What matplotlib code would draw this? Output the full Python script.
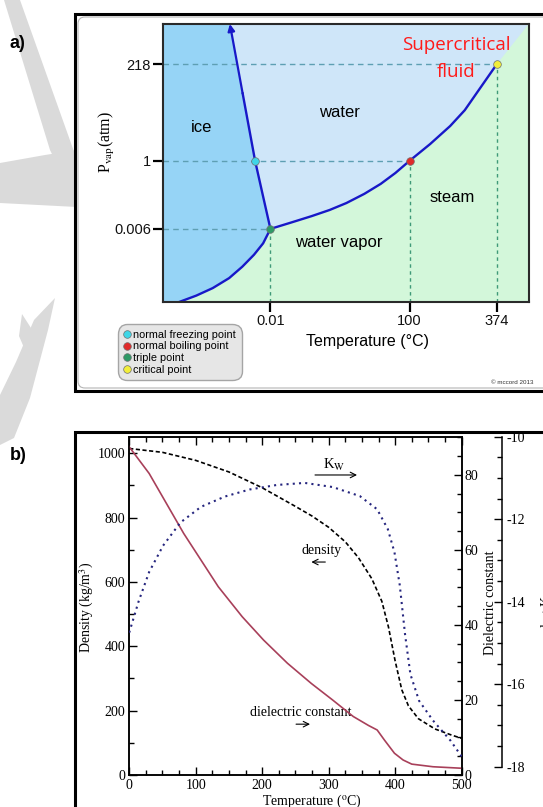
import numpy as np
import matplotlib
matplotlib.use("Agg")
import matplotlib.pyplot as plt
from matplotlib.patches import Polygon, Rectangle, FancyBboxPatch
from matplotlib.lines import Line2D
from matplotlib.ticker import MultipleLocator

plt.rcParams['font.family'] = 'Liberation Serif'
plt.rcParams['mathtext.fontset'] = 'stix'
plt.rcParams['axes.unicode_minus'] = False

W, H = 543, 807

# ---- panel a: schematic phase diagram (positions in % of plot box) ----
phase_xticks = [29.3, 67.4, 91.3]
phase_xlabels = ['0.01', '100', '374']
phase_yticks = [26.3, 50.8, 85.6]
phase_ylabels = ['0.006', '1', '218']

melt_x = [29.3, 27.2, 25.1, 21.7, 18.2]
melt_y = [26.3, 38.5, 50.8, 75.0, 100.0]
sub_x = [4.3, 9.0, 13.5, 18.0, 21.6, 24.8, 27.3, 29.3]
sub_y = [0.0, 2.3, 5.0, 8.6, 12.7, 17.0, 21.1, 26.3]
vap_x = [29.3, 35.0, 40.6, 45.5, 50.1, 55.0, 59.5, 63.5, 67.4, 73.0, 78.5, 82.5, 86.1, 91.3]
vap_y = [26.3, 28.6, 30.9, 33.1, 35.6, 38.9, 42.5, 46.4, 50.8, 56.8, 63.3, 69.0, 75.8, 85.6]

pt_names = ['normal freezing point', 'normal boiling point', 'triple point', 'critical point']
pt_x = [25.1, 67.4, 29.3, 91.3]
pt_y = [50.8, 50.8, 26.3, 85.6]
pt_colors = ['#3fd6e6', '#e02a2a', '#2e9a66', '#f2ee3a']

# ---- panel b: water properties vs temperature ----
dens_T = [0, 50, 100, 150, 200, 250, 275, 300, 325, 345, 365, 380, 390, 400, 410, 420, 435, 460, 485, 500]
dens = [1015, 1003, 978, 942, 893, 835, 805, 770, 725, 675, 610, 540, 460, 355, 265, 215, 175, 143, 124, 114]

diel_T = [0, 30, 56, 82, 108, 134, 170, 202, 238, 274, 306, 337, 360, 373, 384, 399, 412, 425, 457, 500]
diel = [87.5, 80.4, 72.4, 64.4, 57.3, 50.2, 42.2, 36.0, 29.8, 24.4, 20.0, 15.6, 13.2, 12.0, 9.3, 5.8, 4.0, 2.9, 2.2, 1.8]

kw_T = [0, 14, 30, 51, 77, 108, 144, 181, 222, 264, 306, 347, 373, 389, 399, 407, 415, 423, 436, 457, 483, 500]
kw = [-14.75, -14.0, -13.28, -12.64, -12.08, -11.7, -11.45, -11.28, -11.17, -11.12, -11.22, -11.44, -11.76,
      -12.24, -12.8, -13.6, -14.8, -15.76, -16.4, -16.88, -17.36, -17.75]


def fig_rect(x0, y0, x1, y1):
    return [x0 / W, 1 - y1 / H, (x1 - x0) / W, (y1 - y0) / H]


fig = plt.figure(figsize=(W / 100, H / 100), dpi=100)

# background: watermark + frames
bg = fig.add_axes([0, 0, 1, 1], zorder=-5)
bg.set_xlim(0, W)
bg.set_ylim(H, 0)
bg.axis('off')
wm = '#dadada'
bg.add_patch(Polygon([(4, 0), (20, 0), (77, 160), (77, 205), (50, 150)], fc=wm, ec='none'))
bg.add_patch(Polygon([(0, 163), (45, 155), (77, 150), (77, 207), (0, 203)], fc=wm, ec='none'))
bg.add_patch(Polygon([(55, 298), (48, 330), (30, 398), (14, 438), (0, 445), (0, 395), (16, 362), (34, 320)],
                     fc=wm, ec='none'))
bg.add_patch(Polygon([(22, 314), (31, 328), (25, 350), (19, 336)], fc=wm, ec='none'))
bg.add_patch(Rectangle((75, 14), 490, 377, fc='white', ec='black', lw=2.2))
bg.add_patch(FancyBboxPatch((78, 17), 480, 371, boxstyle='round,pad=0,rounding_size=7',
                            fc='none', ec='#b5b5b5', lw=0.8))
bg.add_patch(Rectangle((74.5, 432), 490, 400, fc='white', ec='black', lw=2.2))
bg.text(10, 43, 'a)', fontsize=13, fontweight='bold', family='Liberation Sans', va='center')
bg.text(10, 455, 'b)', fontsize=13, fontweight='bold', family='Liberation Sans', va='center')

# ---------------- panel a ----------------
blue = '#1818c8'
ax_a = fig.add_axes(fig_rect(163.4, 24, 528.7, 302))
ax_a.set_xlim(0, 100)
ax_a.set_ylim(0, 100)
ax_a.set_facecolor('#cfe6f9')

ice = [(0, 100)] + list(zip(melt_x[::-1], melt_y[::-1])) + list(zip(sub_x[::-1], sub_y[::-1]))[1:] + [(0, 0)]
ax_a.add_patch(Polygon(ice, fc='#96d4f6', ec='none', zorder=1))
gas = list(zip(sub_x, sub_y)) + list(zip(vap_x, vap_y))[1:] + [(100, 100), (100, 0)]
ax_a.add_patch(Polygon(gas, fc='#d3f7da', ec='none', zorder=1))

hcol = '#5e9fb3'
vcol = '#3f9a78'
ax_a.plot([0, pt_x[1]], [pt_y[1], pt_y[1]], color=hcol, lw=1.0, ls=(0, (4, 3)), zorder=2)
ax_a.plot([0, pt_x[2]], [pt_y[2], pt_y[2]], color=hcol, lw=1.0, ls=(0, (4, 3)), zorder=2)
ax_a.plot([0, pt_x[3]], [pt_y[3], pt_y[3]], color=hcol, lw=1.0, ls=(0, (4, 3)), zorder=2)
for i in [1, 2, 3]:
    ax_a.plot([pt_x[i], pt_x[i]], [0, pt_y[i]], color=vcol, lw=1.0, ls=(0, (2.5, 2.5)), zorder=2)

ax_a.plot(sub_x, sub_y, color=blue, lw=1.7, zorder=3, solid_capstyle='round')
ax_a.plot(vap_x, vap_y, color=blue, lw=1.7, zorder=3, solid_capstyle='round')
ax_a.plot(melt_x[:-1], melt_y[:-1], color=blue, lw=1.7, zorder=3)
ax_a.annotate('', xy=(melt_x[-1], melt_y[-1]), xytext=(melt_x[-2], melt_y[-2]),
              arrowprops=dict(arrowstyle='-|>', color=blue, lw=1.6, mutation_scale=10,
                              shrinkA=0, shrinkB=0), zorder=3)

for x, y, c in zip(pt_x, pt_y, pt_colors):
    ax_a.plot(x, y, 'o', ms=5.5, mfc=c, mec='#707070', mew=0.5, zorder=5)

for s in ax_a.spines.values():
    s.set_color('#2a2a2a')
    s.set_linewidth(1.5)
    s.set_zorder(6)
ax_a.set_xticks(phase_xticks, phase_xlabels)
ax_a.set_yticks(phase_yticks, phase_ylabels)
ax_a.tick_params(length=7, width=1.6, direction='out', labelsize=10.5, labelfontfamily='Liberation Sans',
                 labelcolor='#111111')
ax_a.tick_params(axis='x', pad=1.5)
ax_a.tick_params(axis='y', pad=2)

sans = 'Liberation Sans'
ax_a.text(10.5, 62.7, 'ice', family=sans, fontsize=12, ha='center', va='center', zorder=7)
ax_a.text(48.2, 68.1, 'water', family=sans, fontsize=12, ha='center', va='center', zorder=7)
ax_a.text(79.0, 37.5, 'steam', family=sans, fontsize=12, ha='center', va='center', zorder=7)
ax_a.text(47.9, 21.5, 'water vapor', family=sans, fontsize=12, ha='center', va='center', zorder=7)
ax_a.text(80.1, 92.4, 'Supercritical', family='Open Sans', fontsize=13.5, color='#ff1a1a',
          ha='center', va='center', zorder=7)
ax_a.text(80.1, 82.6, 'fluid', family='Open Sans', fontsize=13.5, color='#ff1a1a',
          ha='center', va='center', zorder=7)

handles = [Line2D([], [], marker='o', ls='', ms=5.5, mfc=c, mec='#707070', mew=0.5) for c in pt_colors]
leg = ax_a.legend(handles, pt_names, loc='upper left', bbox_to_anchor=(117.7 / W, 1 - 324 / H),
                  bbox_transform=fig.transFigure, frameon=True, fancybox=True, framealpha=1,
                  facecolor='#e6e6e6', edgecolor='#a5a5a5', prop={'family': sans, 'size': 7.8},
                  handlelength=0.6, handletextpad=0.3, labelspacing=0.14, borderpad=0.55,
                  borderaxespad=0)
leg.get_frame().set_boxstyle('round,pad=0,rounding_size=0.9')
leg.get_frame().set_linewidth(1.0)

fig.text(367 / W, 1 - 341.7 / H, 'Temperature (°C)', family=sans, fontsize=11.5, ha='center', va='center')
fig.text(107.3 / W, 1 - 141.7 / H, r'P$_{\rm vap}$(atm)', fontsize=11.5, rotation=90, ha='center', va='center')
fig.text(512 / W, 1 - 382.3 / H, '© mccord 2013', family=sans, fontsize=4.5, color='#333333',
         ha='center', va='center')

# ---------------- panel b ----------------
ax_b = fig.add_axes(fig_rect(129.2, 436.7, 461.6, 775))
ax_b.plot(dens_T, dens, color='black', lw=1.2, ls=(0, (2.5, 1.5)))
ax_b.set_xlim(0, 500)
ax_b.set_ylim(0, 1051.6)
ax_b.xaxis.set_major_locator(MultipleLocator(100))
ax_b.xaxis.set_minor_locator(MultipleLocator(25))
ax_b.yaxis.set_major_locator(MultipleLocator(200))
ax_b.yaxis.set_minor_locator(MultipleLocator(100))
ax_b.tick_params(which='both', direction='in', top=True, right=False, width=1.0, labelsize=10)
ax_b.tick_params(which='major', length=6)
ax_b.tick_params(which='minor', length=3.5)
ax_b.tick_params(axis='x', pad=3)
ax_b.tick_params(axis='y', pad=3)

ax_e = ax_b.twinx()
ax_e.plot(diel_T, diel, color='#a8405a', lw=1.2)
ax_e.set_ylim(0, 90.2)
ax_e.yaxis.set_major_locator(MultipleLocator(20))
ax_e.yaxis.set_minor_locator(MultipleLocator(5))
ax_e.tick_params(which='both', direction='in', width=1.0, labelsize=10, pad=2)
ax_e.tick_params(which='major', length=6)
ax_e.tick_params(which='minor', length=3.5)

ax_k = ax_b.twinx()
ax_k.plot(kw_T, kw, color='#26267f', lw=1.5, ls=(0, (1, 2)))
ax_k.set_ylim(-18.2, -10)
ax_k.spines['right'].set_position(('axes', (502 - 129.2) / 332.4))
ax_k.spines['right'].set_bounds(-18, -10)
for side in ['left', 'top', 'bottom']:
    ax_k.spines[side].set_visible(False)
ax_k.yaxis.set_major_locator(MultipleLocator(2))
ax_k.yaxis.set_minor_locator(MultipleLocator(0.5))
ax_k.tick_params(which='both', direction='in', width=1.0, labelsize=10, pad=3.5)
ax_k.tick_params(which='major', length=6)
ax_k.tick_params(which='minor', length=3.5)

for a in (ax_b, ax_e, ax_k):
    for s in a.spines.values():
        s.set_linewidth(1.1)

ax_b.annotate('', xy=(342.7, 932.6), xytext=(279.5, 932.6),
              arrowprops=dict(arrowstyle='->', color='black', lw=0.8, shrinkA=0, shrinkB=0))
ax_b.text(308, 963, r'K$_{\rm W}$', fontsize=10.5, ha='center', va='center')
ax_b.annotate('', xy=(274, 662), xytext=(295, 662),
              arrowprops=dict(arrowstyle='->', color='black', lw=0.8, shrinkA=0, shrinkB=0))
ax_b.text(290, 699, 'density', fontsize=10, ha='center', va='center')
ax_b.annotate('', xy=(272, 158), xytext=(251, 158),
              arrowprops=dict(arrowstyle='->', color='black', lw=0.8, shrinkA=0, shrinkB=0))
ax_b.text(258, 193, 'dielectric constant', fontsize=10, ha='center', va='center')

fig.text(86.6 / W, 1 - 607 / H, r'Density (kg/m$^3$)', fontsize=10, rotation=90, ha='center', va='center')
fig.text(490 / W, 1 - 603 / H, 'Dielectric constant', fontsize=10, rotation=90, ha='center', va='center')
fig.text(311.6 / W, 1 - 801 / H, r'Temperature ($^{\rm o}$C)', fontsize=10, ha='center', va='center')
fig.text(539 / W, 1 - 608 / H, r'log K$_{\rm w}$', fontsize=10, rotation=90, ha='left', va='center')

fig.savefig('out.png', dpi=100)
